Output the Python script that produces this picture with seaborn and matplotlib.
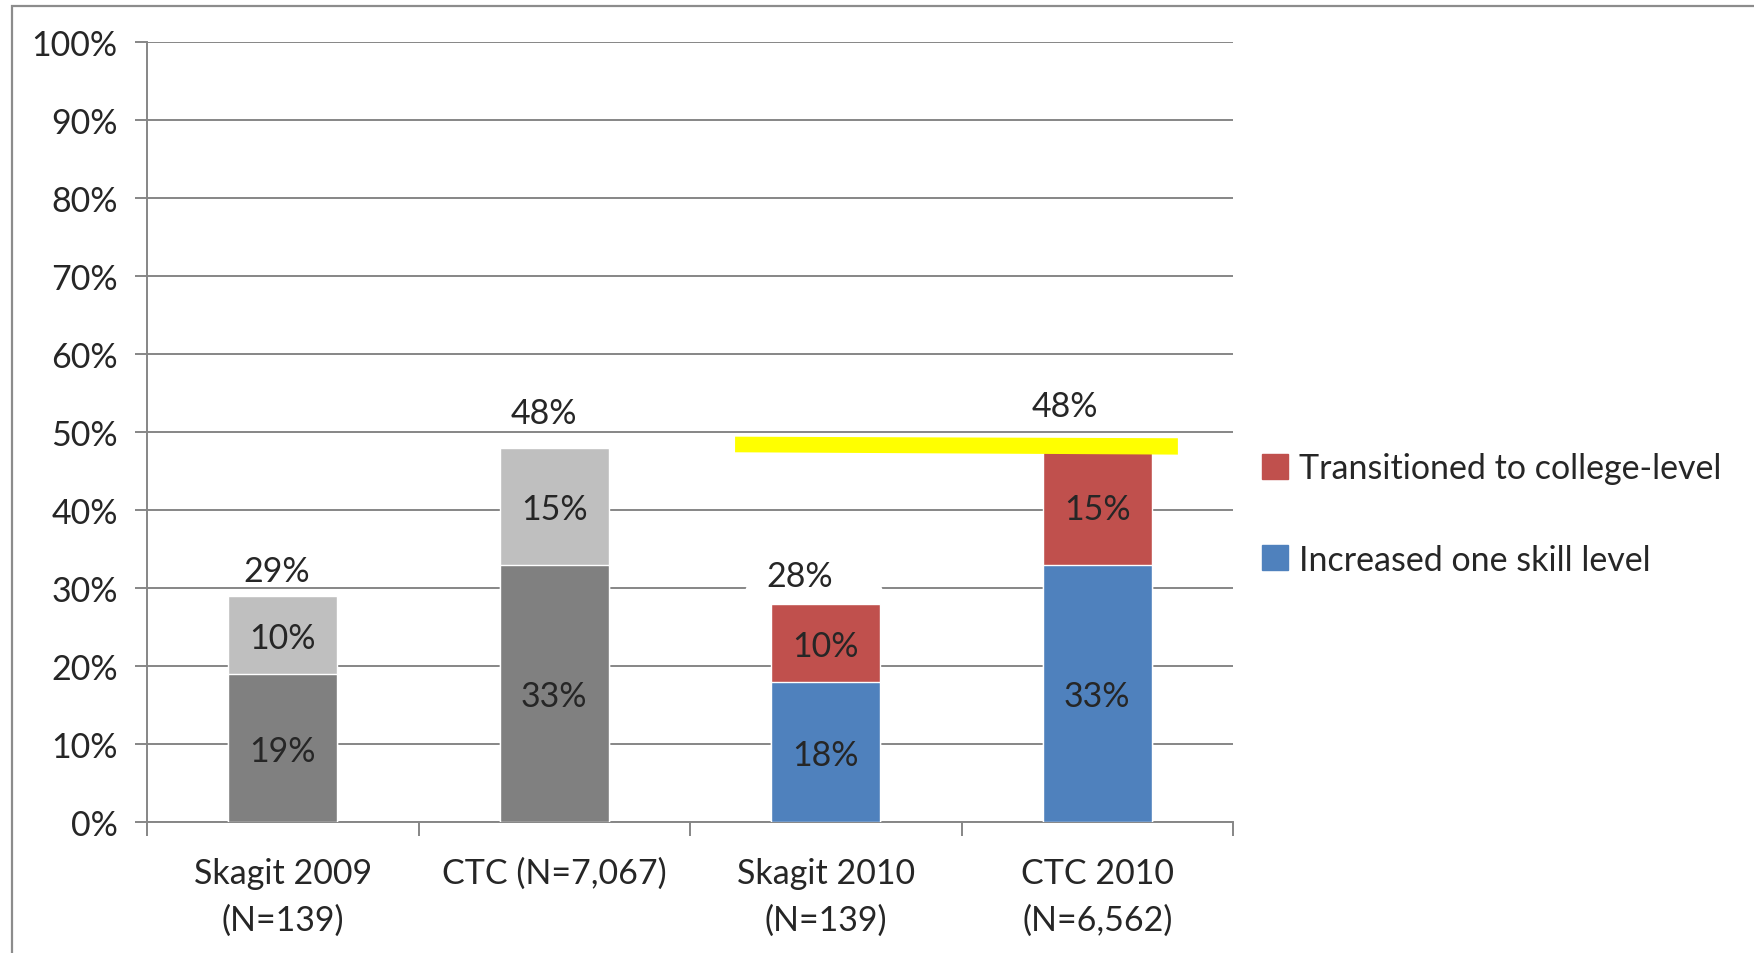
import pandas as pd
import matplotlib.pyplot as plt
import seaborn as sns
from matplotlib.patches import Patch, Rectangle

# Data
categories = ["Skagit 2009\n(N=139)", "CTC (N=7,067)", "Skagit 2010\n(N=139)", "CTC 2010\n(N=6,562)"]
increased = [19, 33, 18, 33]
transitioned = [10, 15, 10, 15]
totals = [29, 48, 28, 48]

# colours: first two bars grey, last two blue/red
bottom_colors = ["#808080", "#808080", "#4F81BD", "#4F81BD"]
top_colors = ["#BFBFBF", "#BFBFBF", "#C0504D", "#C0504D"]

df = pd.DataFrame({"category": categories, "increased": increased,
                   "transitioned": transitioned})
df["stack"] = df["increased"] + df["transitioned"]

sns.set_style("white")
plt.rcParams["font.family"] = ["Lato", "DejaVu Sans"]
FS = 24.5

W, H = 1754, 954
fig = plt.figure(figsize=(W / 100, H / 100), dpi=100)
ax = fig.add_axes([147 / W, 131 / H, (1233 - 147) / W, (823 - 43) / H])

# stacked bars: full height first, then the bottom segment on top of it
sns.barplot(data=df, x="category", y="stack", hue="category", order=categories,
            palette=top_colors, width=0.40, saturation=1, legend=False, ax=ax, zorder=3)
sns.barplot(data=df, x="category", y="increased", hue="category", order=categories,
            palette=bottom_colors, width=0.40, saturation=1, legend=False, ax=ax, zorder=3)

ax.set_xlim(-0.5, 3.5)
ax.set_ylim(0, 100)
ax.set_xlabel("")
ax.set_ylabel("")

grid_c = "#868686"
ax.set_yticks(range(0, 101, 10))
ax.set_yticklabels([f"{v}%" for v in range(0, 101, 10)], fontsize=FS)
ax.yaxis.grid(True, color=grid_c, linewidth=1.4, zorder=0)
ax.set_axisbelow(True)
ax.tick_params(axis="y", length=9, width=1.4, color=grid_c, pad=12, left=True)

# category labels between boundary ticks
ax.set_xticks([0, 1, 2, 3])
ax.set_xticklabels(categories, fontsize=FS, linespacing=1.55)
ax.tick_params(axis="x", length=0, pad=25)
ax.set_xticks([-0.5, 0.5, 1.5, 2.5, 3.5], minor=True)
ax.tick_params(axis="x", which="minor", length=10, width=1.4, color=grid_c, bottom=True)

for s in ["top", "right"]:
    ax.spines[s].set_visible(False)
for s in ["left", "bottom"]:
    ax.spines[s].set_color(grid_c)
    ax.spines[s].set_linewidth(1.4)

# segment labels
for i in range(len(categories)):
    ax.text(i, increased[i] / 2 - 0.4, f"{increased[i]}%", ha="center", va="center",
            fontsize=FS, zorder=5)
    ax.text(i, increased[i] + transitioned[i] / 2 - 0.4, f"{transitioned[i]}%",
            ha="center", va="center", fontsize=FS, zorder=5)

# total labels above bars (small nudges as in the original)
nudge_x = [-0.024, -0.039, -0.096, -0.119]
nudge_y = [3.2, 4.4, 3.6, 5.3]
for i in range(len(categories)):
    ax.text(i + nudge_x[i], totals[i] + nudge_y[i], f"{totals[i]}%", ha="center",
            va="center", fontsize=FS, zorder=5)

# white patch hiding the gridline under the 28% label
ax.plot([1.71, 2.2], [30, 30], color="white", linewidth=2.5, zorder=2)

# yellow highlighter stroke
ax.fill([1.666, 3.297, 3.297, 1.666], [49.4, 49.2, 47.1, 47.4], color="#FFFF00",
        zorder=6, linewidth=0)

# legend
handles = [Patch(color="#C0504D", label="Transitioned to college-level"),
           Patch(color="#4F81BD", label="Increased one skill level")]
fig.legend(handles=handles, loc="center left", bbox_to_anchor=(1262 / W, 1 - 515 / H),
           frameon=False, fontsize=FS, handlelength=0.75, handleheight=0.75,
           handletextpad=0.35, labelspacing=1.75, borderaxespad=0, borderpad=0)

# outer chart border
fig.add_artist(Rectangle((12 / W, -0.1), 1.2, 1.1 - 7 / H, transform=fig.transFigure,
                         fill=False, edgecolor="#8C8C8C", linewidth=1.6))

fig.savefig("out.png", dpi=100)
